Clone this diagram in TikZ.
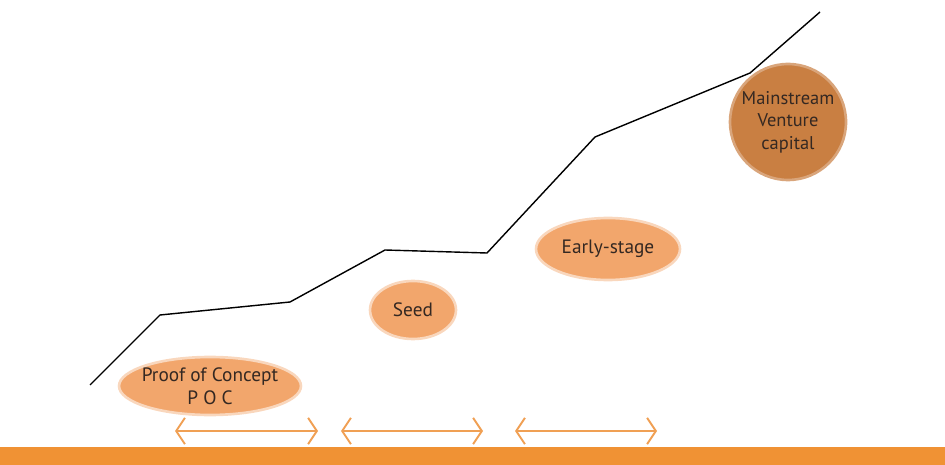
\documentclass[tikz,border=0pt]{standalone}
\usepackage{fontspec}
\setmainfont{PT Sans}
\usetikzlibrary{shapes.geometric,arrows.meta}
\definecolor{stagefill}{RGB}{242,166,108}
\definecolor{vcfill}{RGB}{201,127,66}
\definecolor{barorange}{RGB}{240,146,52}
\definecolor{arroworange}{RGB}{240,160,84}
\definecolor{textbrown}{RGB}{52,40,34}
\begin{document}
\begin{tikzpicture}[x=0.02cm, y=-0.02cm,
    stage/.style={ellipse, fill=stagefill, draw=stagefill!45, line width=1.5pt,
        inner sep=-5pt, text=textbrown, align=center,
        font=\fontsize{11}{13}\selectfont},
    span/.style={arroworange, line width=1.1pt,
        {Straight Barb[length=5pt,width=15pt]}-{Straight Barb[length=5pt,width=15pt]}}]
    \useasboundingbox (0,0) rectangle (945,465);
    \fill[barorange] (0,447) rectangle (945,465);

    % growth line
    \draw[black, line width=0.8pt] (90,385) -- (160,315) -- (290,302) -- (385,250)
        -- (487,253) -- (595,137) -- (750,73) -- (820,12);

    \node[stage, minimum width=3.64cm, minimum height=1.16cm] (poc) at (210,386) {Proof of Concept\\P O C};
    \node[stage, minimum width=1.72cm, minimum height=1.16cm] (seed) at (413,310) {Seed};
    \node[stage, minimum width=2.88cm, minimum height=1.24cm] (early) at (608,249) {Early-stage};
    \node[stage, fill=vcfill, draw=vcfill!70, minimum width=2.32cm, minimum height=2.32cm,
        font=\fontsize{10.5}{12.8}\selectfont] (vc) at (788,122) {Mainstream\\Venture\\capital};

    \foreach \n/\a/\b in {1/175/318, 2/341/483, 3/515/657} {
        \coordinate (l\n) at (\a,431);
        \coordinate (r\n) at (\b,431);
        \draw[span] (l\n) -- (r\n);
    }
\end{tikzpicture}
\end{document}
